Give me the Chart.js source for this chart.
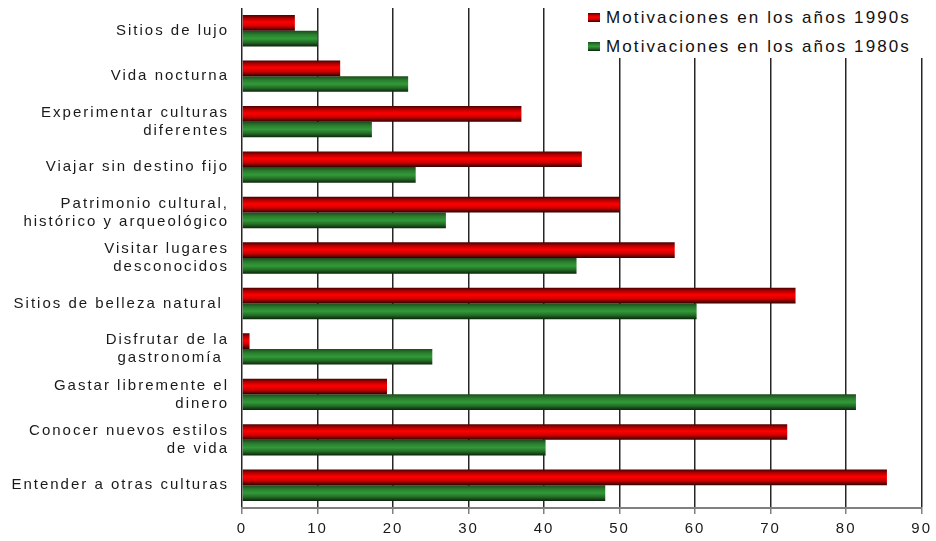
<!DOCTYPE html>
<html>
<head>
<meta charset="utf-8">
<script src="https://cdn.jsdelivr.net/npm/chart.js@4"></script>
<style>
  html, body { margin: 0; padding: 0; background: #fff; }
  #wrap { position: relative; width: 936px; height: 541px; }
  #legend {
    position: absolute; left: 584px; top: 6px; width: 345px; height: 52px;
    background: #fff; font-family: "Liberation Sans", Arial, sans-serif;
    font-size: 17px; color: #111; letter-spacing: 2.1px;
  }
  .item { position: absolute; left: 4px; height: 20px; line-height: 20px; white-space: nowrap; }
  .sw { display: inline-block; width: 12px; height: 9px; margin-right: 6px; vertical-align: 1px; }
</style>
</head>
<body>
<div id="wrap">
  <canvas id="c" width="936" height="541"></canvas>
  <div id="legend"></div>
</div>
<script>
const categories = [
  'Sitios de lujo',
  'Vida nocturna',
  ['Experimentar culturas', 'diferentes'],
  'Viajar sin destino fijo',
  ['Patrimonio cultural,', 'histórico y arqueológico'],
  ['Visitar lugares', 'desconocidos'],
  'Sitios de belleza natural ',
  ['Disfrutar de la', 'gastronomía '],
  ['Gastar libremente el', 'dinero'],
  ['Conocer nuevos estilos', 'de vida'],
  'Entender a otras culturas'
];
const seriesNames = ['Motivaciones en los años 1990s', 'Motivaciones en los años 1980s'];
const values1990 = [7, 13, 37, 45, 50, 57.3, 73.3, 1, 19.2, 72.2, 85.4];
const values1980 = [10, 22, 17.2, 23, 27, 44.3, 60.2, 25.2, 81.3, 40.2, 48.1];
const xTicks = [0, 10, 20, 30, 40, 50, 60, 70, 80, 90];

const gradStops = [
  [[0, '#4a0000'], [0.2, '#b00000'], [0.45, '#ff0000'], [0.7, '#d00000'], [1, '#2a0000']],
  [[0, '#1c4a1c'], [0.25, '#2a7e2e'], [0.5, '#329a38'], [0.75, '#236b26'], [1, '#0a240a']]
];
const flatColors = ['#e00000', '#2a8a30'];

// vertical shading on each bar, like the old office charts
const barShade = {
  id: 'barShade',
  beforeDraw(chart) {
    chart.ctx.letterSpacing = '2px';
  },
  beforeDatasetsDraw(chart) {
    const ctx = chart.ctx;
    chart.data.datasets.forEach((ds, di) => {
      const meta = chart.getDatasetMeta(di);
      meta.data.forEach(el => {
        const p = el.getProps(['y', 'height'], true);
        const g = ctx.createLinearGradient(0, p.y - p.height / 2, 0, p.y + p.height / 2);
        gradStops[di].forEach(s => g.addColorStop(s[0], s[1]));
        el.options = Object.assign({}, el.options, { backgroundColor: g });
      });
    });
  }
};

const chart = new Chart(document.getElementById('c'), {
  type: 'bar',
  data: {
    labels: categories,
    datasets: [
      { label: seriesNames[0], data: values1990, backgroundColor: flatColors[0], borderWidth: 0 },
      { label: seriesNames[1], data: values1980, backgroundColor: flatColors[1], borderWidth: 0 }
    ]
  },
  options: {
    indexAxis: 'y',
    responsive: false,
    animation: false,
    layout: { padding: { top: 8, right: 14, left: 0, bottom: 0 } },
    categoryPercentage: 0.69,
    barPercentage: 1.0,
    plugins: { legend: { display: false }, tooltip: { enabled: false } },
    scales: {
      x: {
        min: 0, max: 90,
        afterBuildTicks(scale) { scale.ticks = xTicks.map(v => ({ value: v })); },
        afterFit(scale) { scale.height = 33; },
        grid: { color: '#262626', lineWidth: 1.5, tickLength: 6, tickColor: '#808080', drawTicks: true },
        border: { display: true, color: '#808080', width: 2 },
        ticks: {
          color: '#1a1a1a', padding: 6,
          font: { family: '"Liberation Sans", Arial, sans-serif', size: 15 }
        }
      },
      y: {
        afterFit(scale) {
          scale.width = 242;
          scale.paddingTop = 0;
          scale.paddingBottom = 0;
        },
        grid: { display: false },
        border: { display: false },
        ticks: {
          color: '#1a1a1a', padding: 5,
          font: { family: '"Liberation Sans", Arial, sans-serif', size: 15, lineHeight: 1.2 }
        }
      }
    }
  },
  plugins: [barShade]
});

const legendEl = document.getElementById('legend');
seriesNames.forEach((name, i) => {
  const stops = gradStops[i].map(s => s[1] + ' ' + (s[0] * 100) + '%').join(', ');
  const div = document.createElement('div');
  div.className = 'item';
  div.style.top = (i === 0 ? 2 : 31) + 'px';
  div.innerHTML = '<span class="sw" style="background: linear-gradient(' + stops + ')"></span>' + name;
  legendEl.appendChild(div);
});
</script>
</body>
</html>
